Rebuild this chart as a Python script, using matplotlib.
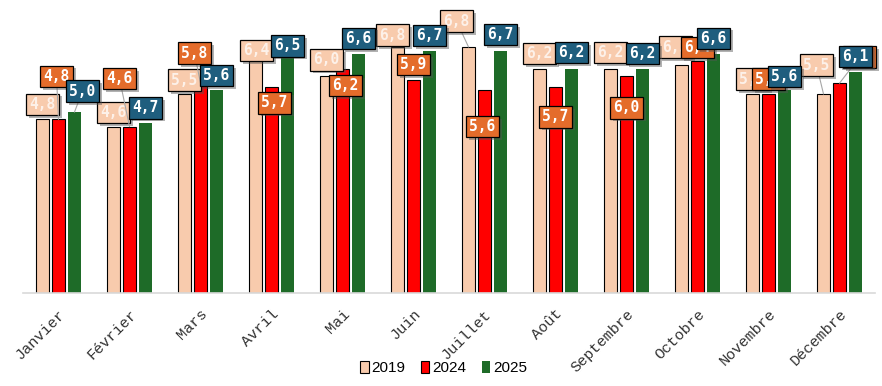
import numpy as np
import matplotlib
matplotlib.use('Agg')
import matplotlib.pyplot as plt
import matplotlib.patheffects as pe
from matplotlib.patches import Patch

mois = ['Janvier', 'Février', 'Mars', 'Avril', 'Mai', 'Juin', 'Juillet',
        'Août', 'Septembre', 'Octobre', 'Novembre', 'Décembre']
v2019 = [4.8, 4.6, 5.5, 6.4, 6.0, 6.8, 6.8, 6.2, 6.2, 6.3, 5.5, 5.5]
v2024 = [4.8, 4.6, 5.8, 5.7, 6.2, 5.9, 5.6, 5.7, 6.0, 6.4, 5.5, 5.8]
v2025 = [5.0, 4.7, 5.6, 6.5, 6.6, 6.7, 6.7, 6.2, 6.2, 6.6, 5.6, 6.1]
annees = ['2019', '2024', '2025']

# label offsets (pixels, dx / dy up) from top of each bar
off2019 = [(0, 15), (0, 14), (0, 14), (1, 11), (0, 16), (-5, 12), (-12, 26),
           (0, 15), (0, 16), (-6, 18), (0, 15), (-7, 29)]
off2024 = [(-2, 43), (-10, 48), (-6, 30), (3, -16), (3, -17), (0, 15), (-2, -36),
           (0, -30), (0, -32), (0, 14), (0, 15), (20, 26)]
off2025 = [(8, 21), (0, 15), (0, 15), (0, 12), (0, 16), (0, 15), (0, 16),
           (0, 16), (0, 15), (0, 16), (0, 14), (0, 16)]

bar_col = ['#F8CBAD', '#FF0000', '#1E6B28']
lab_bg = ['#F8CBAD', '#E46C2B', '#1F5E7E']
lab_fg = ['#FDF1E9', 'white', 'white']
edges = ['black', 'black', 'none']

fig = plt.figure(figsize=(8.82, 3.86), dpi=100)
ax = fig.add_axes([23/882, 93/386, 852/882, 293/386])
x = np.arange(len(mois))
w = 0.18
step = 0.225

series = [v2019, v2024, v2025]
offs = [off2019, off2024, off2025]
for k in range(3):
    ax.bar(x + (k-1)*step, series[k], width=w, color=bar_col[k],
           edgecolor=edges[k], linewidth=0.8, zorder=2)

for k in range(3):
    for i, v in enumerate(series[k]):
        dx, dy = offs[k][i]
        arrow = None
        if dy > 24 or abs(dx) >= 8:
            arrow = dict(arrowstyle='-', color='#A6A6A6', lw=0.8,
                         shrinkA=0, shrinkB=0)
        t = ax.annotate(('%.1f' % v).replace('.', ','),
                        xy=(x[i] + (k-1)*step, v), xytext=(dx, dy),
                        textcoords='offset pixels', ha='center', va='center',
                        fontsize=10.5, fontweight='bold', family='DejaVu Sans Mono',
                        color=lab_fg[k], zorder=5 + k, arrowprops=arrow,
                        bbox=dict(boxstyle='square,pad=0.22', fc=lab_bg[k],
                                  ec='black', lw=0.9))
        t.get_bbox_patch().set_path_effects(
            [pe.withSimplePatchShadow(offset=(2, -2), shadow_rgbFace='#555555', alpha=0.45)])

ax.set_xlim(-0.5, len(mois) - 0.5)
ax.set_ylim(0, 8.1)
ax.set_yticks([])
for s in ['top', 'right', 'left']:
    ax.spines[s].set_visible(False)
ax.spines['bottom'].set_color('#D9D9D9')
ax.spines['bottom'].set_linewidth(1.2)
ax.set_xticks(x)
ax.set_xticklabels(mois, rotation=45, ha='right', rotation_mode='anchor',
                   family='Liberation Mono', fontsize=11, color='#333333')
ax.tick_params(axis='x', length=0, pad=10)

handles = [Patch(facecolor=bar_col[k], edgecolor=edges[k], linewidth=0.8)
           for k in range(3)]
fig.legend(handles, annees, loc='center', bbox_to_anchor=(0.503, 1 - 368/386),
           ncol=3, frameon=False, handlelength=0.55, handleheight=0.9,
           handletextpad=0.2, columnspacing=1.0,
           prop={'family': 'Liberation Sans', 'size': 11})

fig.savefig('out.png', dpi=100)
